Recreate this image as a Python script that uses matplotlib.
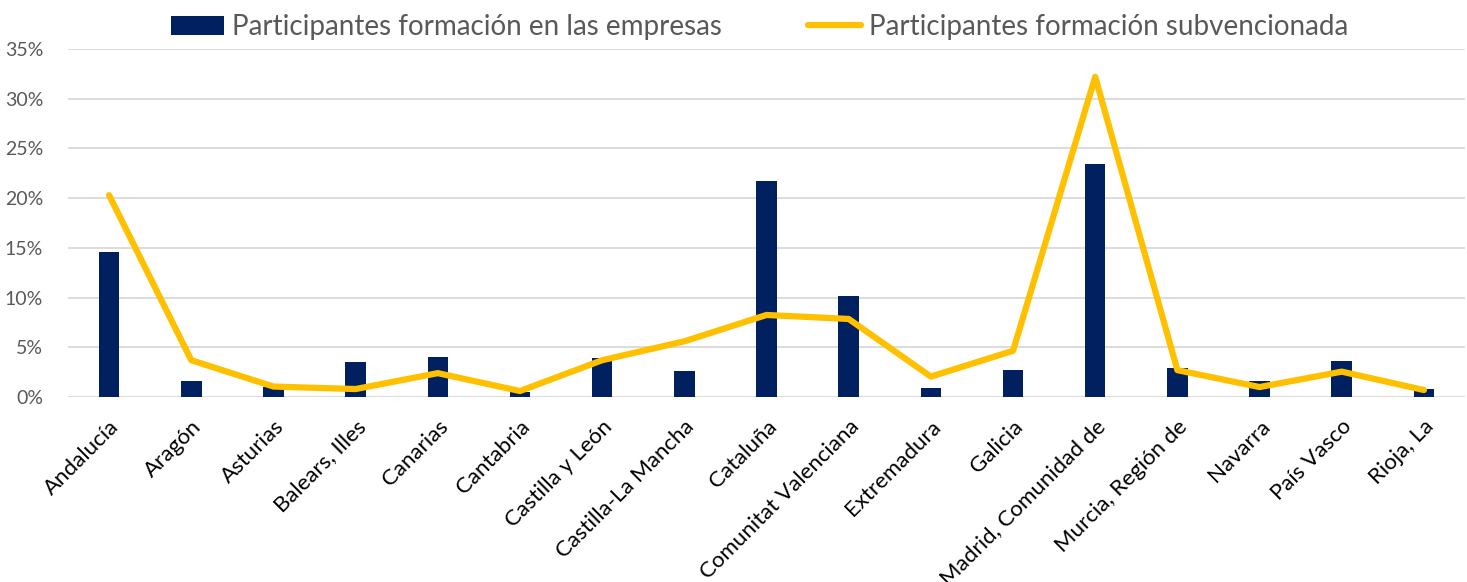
import matplotlib
matplotlib.use("Agg")
import matplotlib.pyplot as plt
import numpy as np
from matplotlib.ticker import PercentFormatter

regions = ["Andalucía", "Aragón", "Asturias", "Balears, Illes", "Canarias", "Cantabria",
           "Castilla y León", "Castilla-La Mancha", "Cataluña", "Comunitat Valenciana",
           "Extremadura", "Galicia", "Madrid, Comunidad de", "Murcia, Región de",
           "Navarra", "País Vasco", "Rioja, La"]
empresas = [14.6, 1.6, 1.0, 3.5, 4.0, 0.5, 3.9, 2.6, 21.7, 10.2, 0.9, 2.7, 23.4, 2.95, 1.6, 3.6, 0.8]
subvencionada = [20.3, 3.7, 1.05, 0.8, 2.4, 0.6, 3.7, 5.6, 8.25, 7.85, 2.05, 4.65, 32.2, 2.7, 1.0, 2.55, 0.7]

label_bar = "Participantes formación en las empresas"
label_line = "Participantes formación subvencionada"

plt.rcParams['font.family'] = ['Lato', 'DejaVu Sans']

fig = plt.figure(figsize=(14.67, 5.82), dpi=100)
ax = fig.add_axes([68/1467, 1 - 397/582, (1465-68)/1467, (397-49)/582])

x = np.arange(len(regions))
bars = ax.bar(x, empresas, width=0.25, color="#002060", label=label_bar, zorder=2)
line, = ax.plot(x, subvencionada, color="#FFC000", linewidth=4.5, solid_joinstyle="round",
                solid_capstyle="round", label=label_line, zorder=3)

ax.set_ylim(0, 35)
ax.set_xlim(-0.5, len(regions) - 0.5)
ax.set_yticks(np.arange(0, 36, 5))
ax.yaxis.set_major_formatter(PercentFormatter(decimals=0))
ax.grid(axis="y", color="#D9D9D9", linewidth=1.3, zorder=0)
ax.set_axisbelow(True)
for s in ax.spines.values():
    s.set_visible(False)
ax.tick_params(axis="both", length=0)
ax.tick_params(axis="y", labelsize=14, labelcolor="#595959", pad=18)
ax.set_xticks(x)
ax.set_xticklabels(regions, rotation=45, ha="right", rotation_mode="anchor", fontsize=16,
                   color="black")
ax.tick_params(axis="x", pad=14)

leg = fig.legend([bars, line], [label_bar, label_line], loc="center",
                 bbox_to_anchor=(0.518, 1 - 27/582), ncol=2, frameon=False,
                 fontsize=20, labelcolor="#595959", handlelength=1.9, handletextpad=0.3,
                 columnspacing=3.1, borderpad=0)

fig.savefig("out.png", dpi=100)
